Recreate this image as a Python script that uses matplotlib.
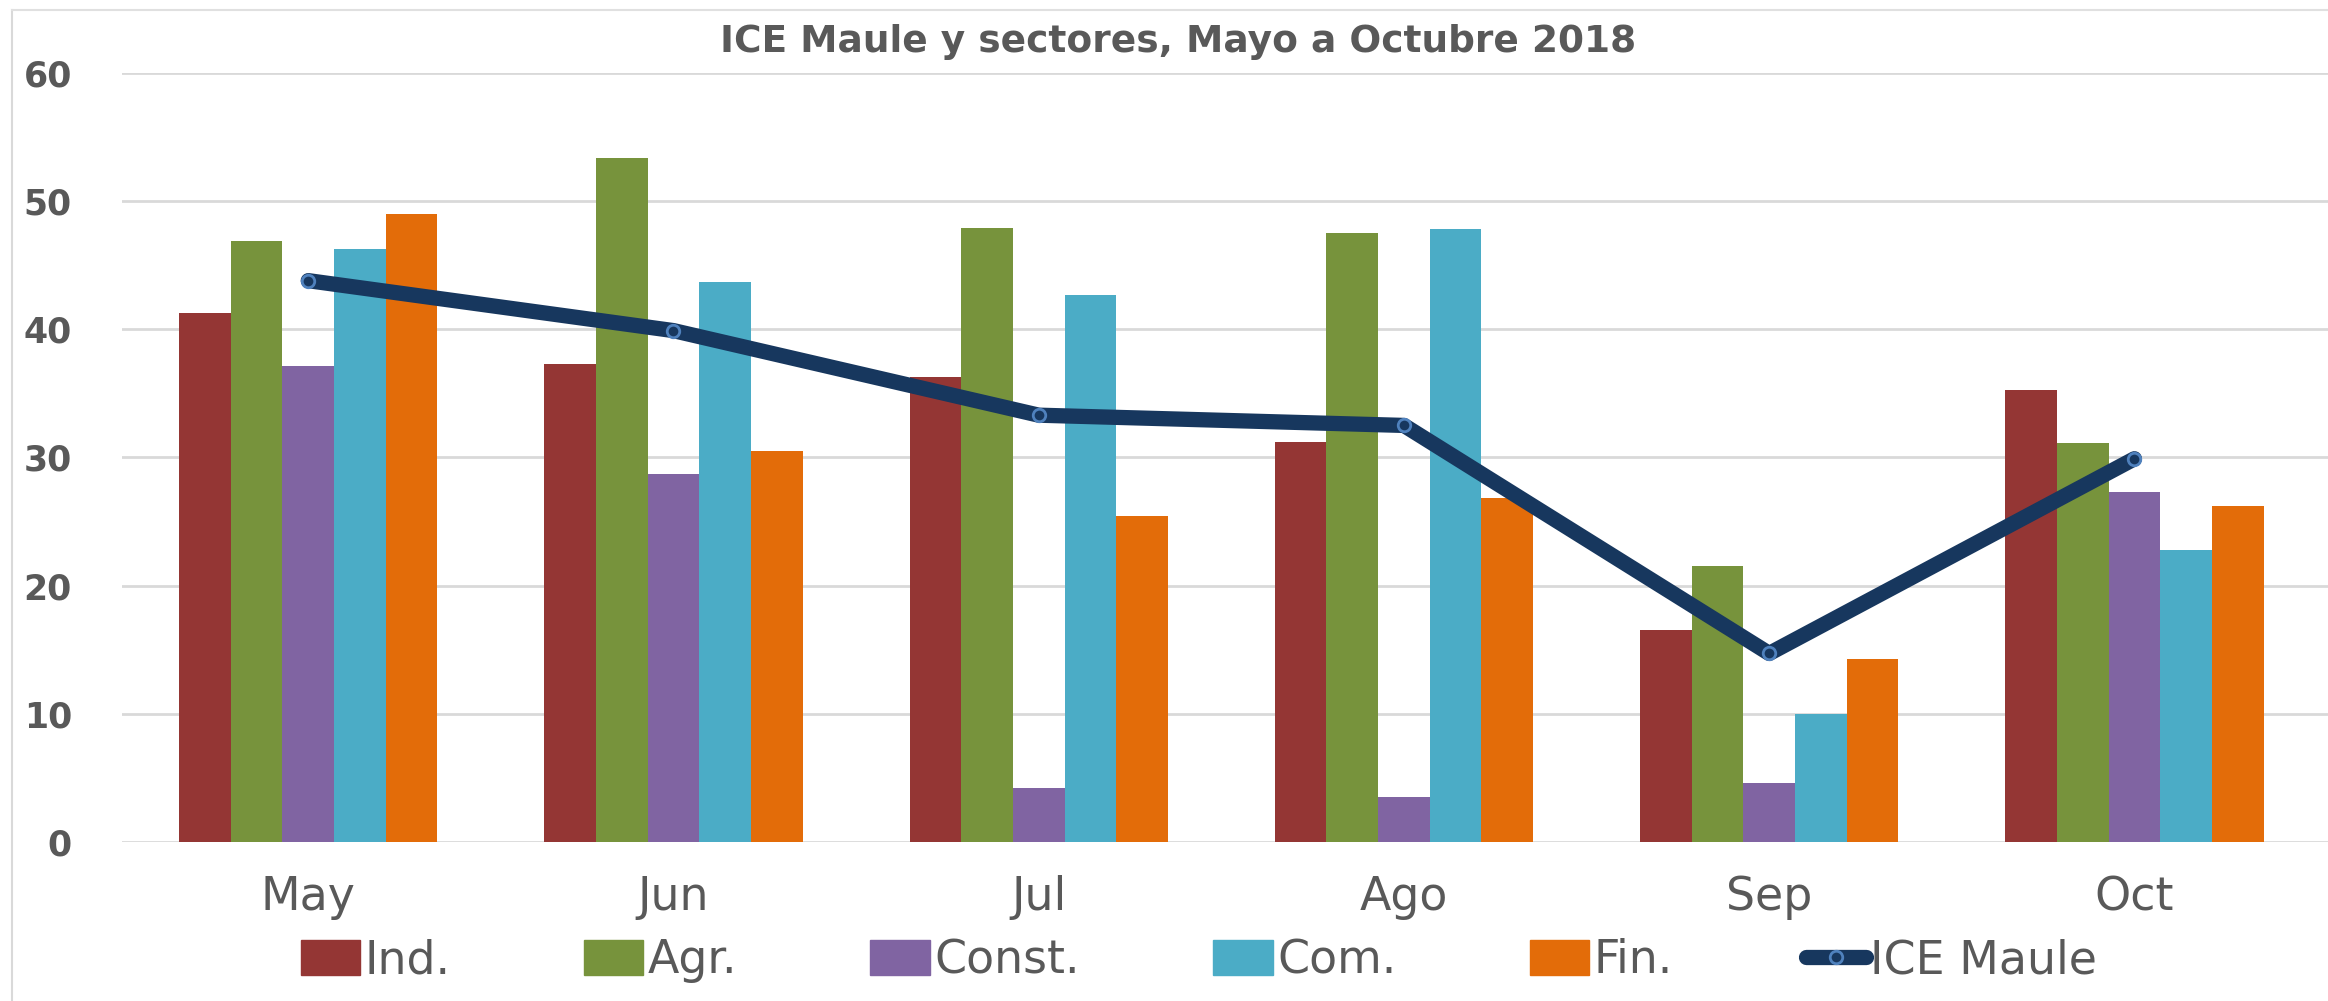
import numpy as np
import matplotlib
matplotlib.use('Agg')
import matplotlib.pyplot as plt
from matplotlib.lines import Line2D

# Datos
meses = ['May', 'Jun', 'Jul', 'Ago', 'Sep', 'Oct']
ind = [41.3, 37.3, 36.3, 31.2, 16.5, 35.3]
agr = [46.9, 53.4, 47.9, 47.5, 21.5, 31.1]
const = [37.1, 28.7, 4.2, 3.5, 4.6, 27.3]
com = [46.3, 43.7, 42.7, 47.8, 10.0, 22.8]
fin = [49.0, 30.5, 25.4, 26.8, 14.3, 26.2]
ice_maule = [43.8, 39.9, 33.3, 32.5, 14.7, 29.9]

series = [('Ind.', ind, '#943634'),
          ('Agr.', agr, '#77933C'),
          ('Const.', const, '#8064A2'),
          ('Com.', com, '#4BACC6'),
          ('Fin.', fin, '#E36C09')]

gris = '#595959'
azul = '#17375E'

fig = plt.figure(figsize=(23.28, 10.01), dpi=100)
ax = fig.add_axes([0.0524, 0.159, 0.9476, 0.768])

x = np.arange(len(meses))
ancho = 0.1414
for i, (nombre, vals, color) in enumerate(series):
    ax.bar(x + (i - 2) * ancho, vals, ancho, color=color, label=nombre, zorder=2)

ax.plot(x, ice_maule, color=azul, lw=11, solid_joinstyle='round',
        solid_capstyle='round', marker='o', ms=9, mfc=azul,
        mec='#4F81BD', mew=2, zorder=3)

ax.set_xlim(-0.51, 5.53)
ax.set_ylim(0, 60)
ax.set_yticks(range(0, 61, 10))
ax.set_xticks(x)
ax.set_xticklabels(meses)
ax.grid(axis='y', color='#D9D9D9', lw=2, zorder=0)
for s in ax.spines.values():
    s.set_visible(False)
ax.tick_params(axis='both', length=0)
ax.tick_params(axis='y', pad=36, labelsize=25, labelcolor=gris)
ax.tick_params(axis='x', pad=24, labelsize=33, labelcolor=gris)
for t in ax.get_yticklabels():
    t.set_fontweight('bold')

fig.text(0.506, 0.958, 'ICE Maule y sectores, Mayo a Octubre 2018',
         ha='center', va='center', fontsize=27, fontweight='bold', color=gris)

# Leyenda
handles = [plt.Rectangle((0, 0), 1, 1, color=c) for _, _, c in series]
handles.append(Line2D([0], [0], color=azul, lw=11, solid_capstyle='round',
                      marker='o', ms=9, mfc=azul, mec='#4F81BD', mew=2))
labels = [n for n, _, _ in series] + ['ICE Maule']
fig.legend(handles, labels, loc='center', bbox_to_anchor=(0.515, 0.04), ncol=6,
           frameon=False, fontsize=33, labelcolor=gris, handlelength=1.3,
           handleheight=0.8, handletextpad=0.1, columnspacing=2.9)

# Borde del grafico
fig.add_artist(Line2D([0.005, 0.005], [0, 0.99], transform=fig.transFigure,
                      color='#D9D9D9', lw=1.5))
fig.add_artist(Line2D([0.005, 1], [0.99, 0.99], transform=fig.transFigure,
                      color='#E0E0E0', lw=1.5))

fig.savefig('out.png', dpi=100)
